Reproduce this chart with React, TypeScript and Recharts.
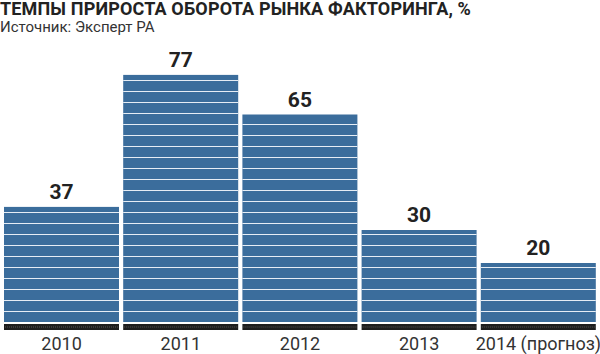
import { BarChart, Bar, XAxis, YAxis, LabelList } from "recharts";

const years = ["2010", "2011", "2012", "2013", "2014 (прогноз)"];
const growth = [37, 77, 65, 30, 20];

const data = years.map((year, i) => ({ year, value: growth[i] }));

const BAR_BLUE = "#3b6d9c";
const FONT = "Roboto, 'DejaVu Sans', sans-serif";

// blue column with white stripes every 11px and a black foot
const StripedBar = (props: any) => {
  const { x, y, width, height } = props;
  const bottom = y + height;
  const blueBottom = bottom - 7;
  const lines = [];
  for (let ly = blueBottom - 11; ly > y + 2; ly -= 11) {
    lines.push(
      <line key={ly} x1={x} x2={x + width} y1={ly + 0.5} y2={ly + 0.5} stroke="#e6edf5" strokeWidth={1} />
    );
  }
  return (
    <g>
      <rect x={x} y={y} width={width} height={blueBottom - y} fill={BAR_BLUE} />
      {lines}
      <rect x={x} y={bottom - 5} width={width} height={6} fill="#1e1e1e" />
      <line x1={x + 1} x2={x + width - 1} y1={bottom - 2} y2={bottom - 2} stroke="#555" strokeDasharray="1 1" />
    </g>
  );
};

export default function App() {
  return (
    <div style={{ position: "absolute", left: 0, top: 0, width: 600, height: 354, background: "#fff" }}>
      <div
        style={{
          position: "absolute",
          left: 0,
          top: 0,
          fontFamily: FONT,
          fontWeight: 700,
          fontSize: 18,
          lineHeight: "18px",
          color: "#222",
          whiteSpace: "nowrap",
          letterSpacing: 0.15,
        }}
      >
        ТЕМПЫ ПРИРОСТА ОБОРОТА РЫНКА ФАКТОРИНГА, %
      </div>
      <div
        style={{
          position: "absolute",
          left: 0,
          top: 20,
          fontFamily: FONT,
          fontSize: 15,
          lineHeight: "15px",
          color: "#333",
          whiteSpace: "nowrap",
        }}
      >
        Источник: Эксперт РА
      </div>
      <BarChart
        width={600}
        height={354}
        data={data}
        margin={{ top: 65, right: 2, bottom: 0, left: 2 }}
        barCategoryGap={2}
      >
        <XAxis
          dataKey="year"
          axisLine={false}
          tickLine={false}
          height={25}
          tickSize={0}
          tickMargin={8}
          interval={0}
          tick={{ fill: "#333", fontSize: 18, fontFamily: FONT }}
        />
        <YAxis hide domain={[0, 80]} />
        <Bar dataKey="value" shape={<StripedBar />} isAnimationActive={false}>
          <LabelList
            dataKey="value"
            position="top"
            offset={8}
            fill="#222"
            fontSize={21}
            fontWeight={700}
            fontFamily={FONT}
          />
        </Bar>
      </BarChart>
    </div>
  );
}
